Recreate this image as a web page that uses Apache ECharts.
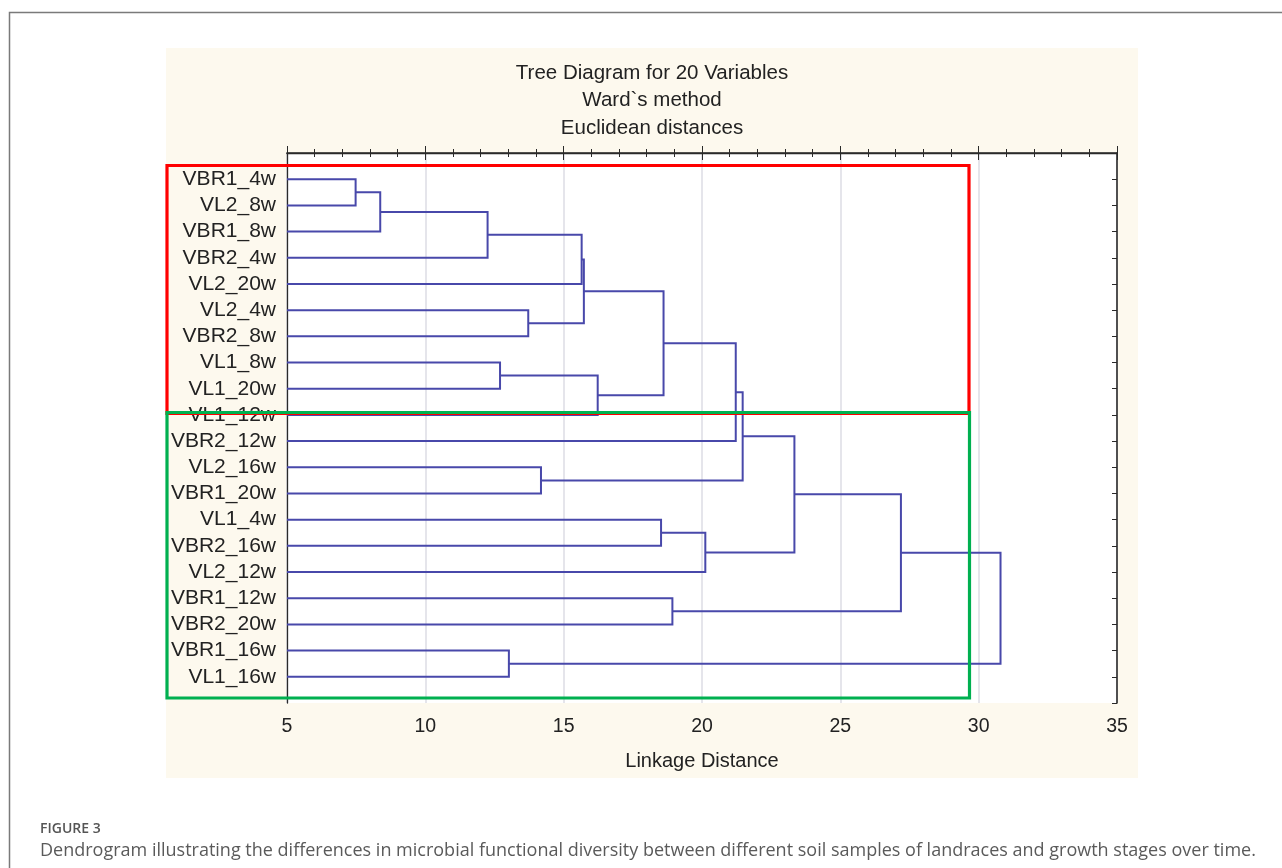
<!DOCTYPE html>
<html><head><meta charset="utf-8">
<script src="https://cdn.jsdelivr.net/npm/echarts@6/dist/echarts.min.js"></script>
<style>html,body{margin:0;padding:0;background:#fff}#c{width:1282px;height:868px}</style>
</head><body><div id="c"></div>
<script>
// ---- data ----
const leafLabels = ['VBR1_4w','VL2_8w','VBR1_8w','VBR2_4w','VL2_20w','VL2_4w','VBR2_8w','VL1_8w','VL1_20w','VL1_12w',
  'VBR2_12w','VL2_16w','VBR1_20w','VL1_4w','VBR2_16w','VL2_12w','VBR1_12w','VBR2_20w','VBR1_16w','VL1_16w'];
// merge k creates cluster 20+k from (mergeLeft[k], mergeRight[k]) at mergeHeight[k]
const mergeLeft   = [0, 20, 21, 22, 5, 23, 7, 26, 25, 28, 11, 29, 13, 32, 31, 16, 34, 18, 36];
const mergeRight  = [1, 2, 3, 4, 6, 24, 8, 9, 27, 10, 12, 30, 14, 15, 33, 17, 35, 19, 37];
const mergeHeight = [7.48, 8.37, 12.25, 15.65, 13.72, 15.73, 12.70, 16.23, 18.61, 21.22, 14.18, 21.47, 18.52, 20.12, 23.34, 18.93, 27.19, 13.02, 30.79];
const xTickValues = [5, 10, 15, 20, 25, 30, 35];
const titleLines = ['Tree Diagram for 20 Variables', 'Ward`s method', 'Euclidean distances'];
const xAxisTitle = 'Linkage Distance';
const figLabel = 'FIGURE 3';
const figCaption = 'Dendrogram illustrating the differences in microbial functional diversity between different soil samples of landraces and growth stages over time.';

// ---- build dendrogram segments ----
const xMin = xTickValues[0], xMax = xTickValues[xTickValues.length - 1];
const nodePos = leafLabels.map((_, i) => i + 1);
const nodeH = leafLabels.map(() => 0);
const segs = [];
mergeHeight.forEach((h, k) => {
  const a = mergeLeft[k], b = mergeRight[k];
  segs.push([nodeH[a], nodePos[a], h, nodePos[b], nodeH[b]]);
  nodePos.push((nodePos[a] + nodePos[b]) / 2);
  nodeH.push(h);
});

const chart = echarts.init(document.getElementById('c'), null, {renderer: 'canvas'});
const FONT = '"Liberation Sans", Arial, sans-serif';
const lineColor = '#4848aa';
const axisCol = '#2a2a2a';

const gridL = 287, gridT = 153, gridW = 830, gridH = 550;

const option = {
  backgroundColor: '#ffffff',
  animation: false,
  grid: {left: gridL, top: gridT, width: gridW, height: gridH, show: true, backgroundColor: '#ffffff', borderWidth: 0, containLabel: false},
  xAxis: [
    {type: 'value', position: 'bottom', min: xMin, max: xMax, interval: 5,
     axisLine: {show: true, lineStyle: {color: axisCol, width: 1.6}},
     axisTick: {show: true, inside: true, length: 7, lineStyle: {color: axisCol}},
     minorTick: {show: true, splitNumber: 5, length: 4, lineStyle: {color: axisCol}},
     splitLine: {show: true, lineStyle: {color: '#dcdce4', width: 1.5}},
     minorSplitLine: {show: false},
     axisLabel: {color: '#222', fontSize: 19.5, fontFamily: FONT, margin: 14},
     name: xAxisTitle, nameLocation: 'middle', nameGap: 48,
     nameTextStyle: {color: '#222', fontSize: 20, fontFamily: FONT}},
    {type: 'value', position: 'top', min: xMin, max: xMax, interval: 5,
     axisLine: {show: true, lineStyle: {color: axisCol, width: 1.3}},
     axisTick: {show: true, inside: true, length: 7, lineStyle: {color: axisCol}},
     minorTick: {show: true, splitNumber: 5, length: 4, lineStyle: {color: axisCol}},
     splitLine: {show: false}, axisLabel: {show: false}}
  ],
  yAxis: [
    {type: 'value', position: 'left', min: 0, max: leafLabels.length + 1, interval: 1, inverse: true,
     axisLine: {show: true, lineStyle: {color: axisCol, width: 1.3}},
     axisTick: {show: false}, splitLine: {show: false},
     axisLabel: {color: '#222', fontSize: 21, fontFamily: FONT, margin: 11,
       formatter: v => (Number.isInteger(v) && v >= 1 && v <= leafLabels.length) ? leafLabels[v - 1] : ''}},
    {type: 'value', position: 'right', min: 0, max: leafLabels.length + 1, interval: 1, inverse: true,
     axisLine: {show: true, lineStyle: {color: axisCol, width: 1.6}},
     axisTick: {show: true, inside: true, length: 5, lineStyle: {color: axisCol}},
     splitLine: {show: false}, axisLabel: {show: false}}
  ],
  series: [{
    type: 'custom',
    xAxisIndex: 0, yAxisIndex: 0,
    data: segs,
    encode: {x: [0, 2, 4], y: [1, 3]},
    renderItem: (params, api) => {
      const ha = Math.max(api.value(0), xMin), ya = api.value(1), h = api.value(2), yb = api.value(3), hb = Math.max(api.value(4), xMin);
      const pts = [api.coord([ha, ya]), api.coord([h, ya]), api.coord([h, yb]), api.coord([hb, yb])];
      return {type: 'polyline', shape: {points: pts},
              style: {stroke: lineColor, lineWidth: 2, fill: 'none'}};
    },
    z: 5
  }],
  graphic: [
    {type: 'polyline', shape: {points: [[9.5, 868], [9.5, 12.5], [1282, 12.5]]}, style: {stroke: '#7a7a7a', lineWidth: 1.5, fill: 'none'}, z: -10, silent: true},
    {type: 'rect', shape: {x: 166, y: 48, width: 972, height: 730}, style: {fill: '#fdf9ee'}, z: -20, silent: true},
    ...titleLines.map((t, i) => ({type: 'text', x: 652, y: 73 + i * 27.5, z: 10,
      style: {text: t, fontSize: 20.5, fontFamily: FONT, fill: '#222', textAlign: 'center', textVerticalAlign: 'middle'}})),
    {type: 'rect', shape: {x: 167, y: 165.5, width: 802, height: 248}, style: {fill: 'none', stroke: '#ff0000', lineWidth: 3.2}, z: 100, silent: true},
    {type: 'rect', shape: {x: 167, y: 412.5, width: 802.5, height: 285.5}, style: {fill: 'none', stroke: '#00b050', lineWidth: 3.2}, z: 101, silent: true},
    {type: 'text', x: 40, y: 829, z: 10,
      style: {text: figLabel, fontSize: 14, fontWeight: 600, fontFamily: '"Open Sans", sans-serif', fill: '#555', textVerticalAlign: 'middle'}},
    {type: 'text', x: 40, y: 851, z: 10,
      style: {text: figCaption, fontSize: 18, fontFamily: '"Open Sans", sans-serif', fill: '#5a5a5a', textVerticalAlign: 'middle'}}
  ]
};
chart.setOption(option);
</script>
</body></html>
